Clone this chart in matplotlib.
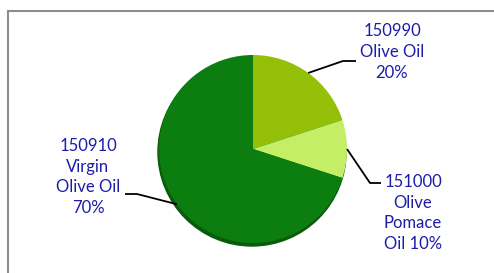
import numpy as np
import matplotlib
matplotlib.use("Agg")
import matplotlib.pyplot as plt
from matplotlib.patches import Rectangle, Ellipse

# chart data
codes = ["150990", "151000", "150910"]
names = ["Olive Oil", "Olive Pomace Oil", "Virgin Olive Oil"]
shares = [20, 10, 70]
label_text = ["150990\nOlive Oil\n20%",
              "151000\nOlive\nPomace\nOil 10%",
              "150910\nVirgin\nOlive Oil\n70%"]
colors = ["#94c00a", "#c4ee66", "#0c7e10"]

W, H = 494, 273
fig = plt.figure(figsize=(W / 100, H / 100), dpi=100)
ax = fig.add_axes([0, 0, 1, 1])

cx, cy, r = 253, H - 149, 94

# shadow under the pie
ax.add_patch(Ellipse((cx - 1, cy - 3), 2 * r, 2 * r, color="#0a5a0c", zorder=1))

wedges, _ = ax.pie(shares, colors=colors, startangle=90, counterclock=False,
                   center=(cx, cy), radius=r, frame=True,
                   wedgeprops=dict(linewidth=0, zorder=2))

# leader elbows / ends and label anchors (pixel coords, y from top)
elbows = [((343, 61), (356, 61)), ((370, 183), (381, 183)), ((137, 194), (125, 194))]
text_pos = [(392, 52), (413, 213), (88, 177)]

for w, (e1, e2), (tx, ty), txt in zip(wedges, elbows, text_pos, label_text):
    mid = np.deg2rad((w.theta1 + w.theta2) / 2)
    sx, sy = cx + r * np.cos(mid), cy + r * np.sin(mid)
    ax.plot([sx, e1[0], e2[0]], [sy, H - e1[1], H - e2[1]], color="black",
            lw=1.3, zorder=3, solid_capstyle="butt")
    ax.text(tx, H - ty, txt, ha="center", va="center", color="#1c1ca8",
            fontsize=12, family="Lato", linespacing=1.38, zorder=4)

# chart border
ax.add_patch(Rectangle((8, -20), W + 20, H - 11 + 20, fill=False,
                       edgecolor="#8c8c8c", lw=1.5, zorder=5))

ax.set_xlim(0, W)
ax.set_ylim(0, H)
ax.set_aspect("equal")
ax.axis("off")

fig.savefig("out.png", dpi=100)
